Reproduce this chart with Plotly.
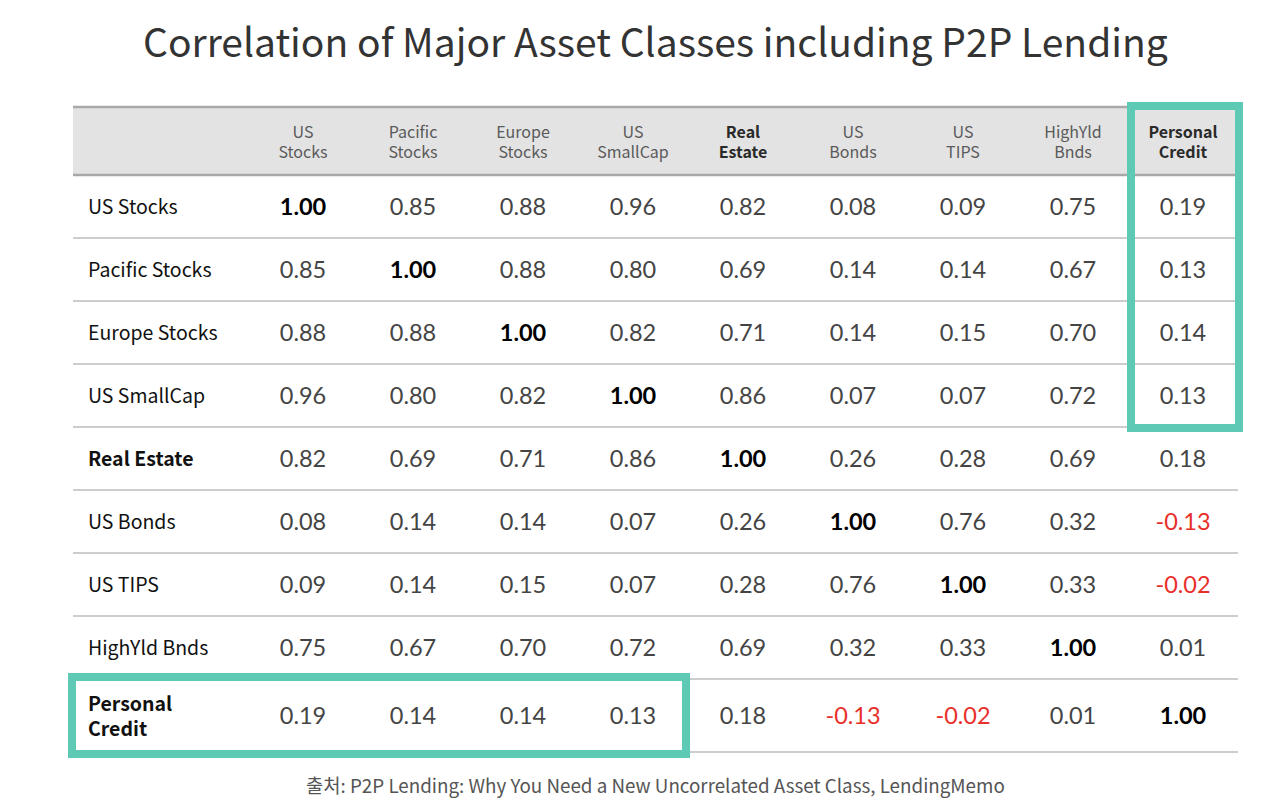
import plotly.graph_objects as go

# --- data ---
ASSETS = ["US Stocks", "Pacific Stocks", "Europe Stocks", "US SmallCap", "Real Estate",
          "US Bonds", "US TIPS", "HighYld Bnds", "Personal Credit"]
HEADERS = ["US<br>Stocks", "Pacific<br>Stocks", "Europe<br>Stocks", "US<br>SmallCap", "Real<br>Estate",
           "US<br>Bonds", "US<br>TIPS", "HighYld<br>Bnds", "Personal<br>Credit"]
ROW_LABELS = ["US Stocks", "Pacific Stocks", "Europe Stocks", "US SmallCap", "Real Estate",
              "US Bonds", "US TIPS", "HighYld Bnds", "Personal<br>Credit"]
BOLD_ASSETS = ["Real Estate", "Personal Credit"]

CORR = [
    [1.00, 0.85, 0.88, 0.96, 0.82, 0.08, 0.09, 0.75, 0.19],
    [0.85, 1.00, 0.88, 0.80, 0.69, 0.14, 0.14, 0.67, 0.13],
    [0.88, 0.88, 1.00, 0.82, 0.71, 0.14, 0.15, 0.70, 0.14],
    [0.96, 0.80, 0.82, 1.00, 0.86, 0.07, 0.07, 0.72, 0.13],
    [0.82, 0.69, 0.71, 0.86, 1.00, 0.26, 0.28, 0.69, 0.18],
    [0.08, 0.14, 0.14, 0.07, 0.26, 1.00, 0.76, 0.32, -0.13],
    [0.09, 0.14, 0.15, 0.07, 0.28, 0.76, 1.00, 0.33, -0.02],
    [0.75, 0.67, 0.70, 0.72, 0.69, 0.32, 0.33, 1.00, 0.01],
    [0.19, 0.14, 0.14, 0.13, 0.18, -0.13, -0.02, 0.01, 1.00],
]

TITLE = "Correlation of Major Asset Classes including P2P Lending"
SOURCE = "출처: P2P Lending: Why You Need a New Uncorrelated Asset Class, LendingMemo"

# --- layout (page pixels) ---
W, H = 1280, 808
PAGE_OFF = 8          # default body margin of the html page
LEFT = 73
LABEL_W = 175
COL_W = 110
HEAD_TOP = 107
HEAD_H = 68
ROW_H = 63
LAST_ROW_H = 73
TEXT_DY = 3           # nudge text down to sit centred in its cell
TEAL = "#5ec9b4"
KFONT = "Noto Sans CJK KR"
NFONT = "Lato"

n = len(ASSETS)
right = LEFT + LABEL_W + COL_W * n
col_x = [LEFT + LABEL_W + COL_W * (j + 0.5) for j in range(n)]
row_top = [HEAD_TOP + HEAD_H + ROW_H * i for i in range(n)]
row_h = [ROW_H] * (n - 1) + [LAST_ROW_H]
row_y = [t + h / 2 + TEXT_DY for t, h in zip(row_top, row_h)]
table_bottom = row_top[-1] + row_h[-1]

fig = go.Figure()

# header band + rules
fig.add_shape(type="rect", x0=LEFT, x1=right, y0=HEAD_TOP, y1=HEAD_TOP + HEAD_H,
              fillcolor="#e3e3e3", line_width=0, layer="below")
for y in (HEAD_TOP, HEAD_TOP + HEAD_H):
    fig.add_shape(type="line", x0=LEFT, x1=right, y0=y, y1=y, line=dict(color="#a8a8a8", width=2.5))
for t, h in zip(row_top, row_h):
    fig.add_shape(type="line", x0=LEFT, x1=right, y0=t + h, y1=t + h, line=dict(color="#bdbdbd", width=1.5))

fig.add_trace(go.Scatter(
    x=col_x, y=[HEAD_TOP + HEAD_H / 2 + TEXT_DY] * n, mode="text",
    text=[f"<b>{h}</b>" if a in BOLD_ASSETS else h for h, a in zip(HEADERS, ASSETS)],
    textfont=dict(family=KFONT, size=16,
                  color=["#2a2a2a" if a in BOLD_ASSETS else "#5a5a5a" for a in ASSETS]),
    hoverinfo="skip"))

# row labels
fig.add_trace(go.Scatter(
    x=[LEFT + 15] * n, y=row_y, mode="text", textposition="middle right",
    text=[f"<b>{l}</b>" if a in BOLD_ASSETS else l for l, a in zip(ROW_LABELS, ASSETS)],
    textfont=dict(family=KFONT, size=19.5, color="#111111"),
    hoverinfo="skip"))

# correlation values
xs, ys, txt, cols = [], [], [], []
for i in range(n):
    for j in range(n):
        v = CORR[i][j]
        xs.append(col_x[j])
        ys.append(row_y[i])
        s = f"{v:.2f}"
        txt.append(f"<b>{s}</b>" if i == j else s)
        cols.append("#000000" if i == j else ("#e8302a" if v < 0 else "#444444"))
fig.add_trace(go.Scatter(x=xs, y=ys, mode="text", text=txt,
                         textfont=dict(family=NFONT, size=23.5, color=cols),
                         hoverinfo="skip"))

# highlight boxes
fig.add_shape(type="rect", x0=col_x[-1] - COL_W / 2 + 3, x1=right + 1,
              y0=HEAD_TOP - 1, y1=row_top[3] + ROW_H + 1,
              line=dict(color=TEAL, width=8))
fig.add_shape(type="rect", x0=LEFT - 1, x1=col_x[3] + COL_W / 2 - 2,
              y0=row_top[-1] - 2, y1=table_bottom + 2,
              line=dict(color=TEAL, width=8))

fig.add_annotation(x=(LEFT + right) / 2, y=40, text=TITLE, showarrow=False,
                   font=dict(family=KFONT, size=39, color="#333333"))
fig.add_annotation(x=(LEFT + right) / 2, y=784, text=SOURCE, showarrow=False,
                   font=dict(family=KFONT, size=18.8, color="#555555"))

fig.update_layout(
    width=W, height=H, margin=dict(l=0, r=0, t=0, b=0),
    paper_bgcolor="white", plot_bgcolor="white", showlegend=False,
    xaxis=dict(range=[PAGE_OFF, W + PAGE_OFF], visible=False, fixedrange=True),
    yaxis=dict(range=[H + PAGE_OFF, PAGE_OFF], visible=False, fixedrange=True),
)

fig.write_html("out.html")
